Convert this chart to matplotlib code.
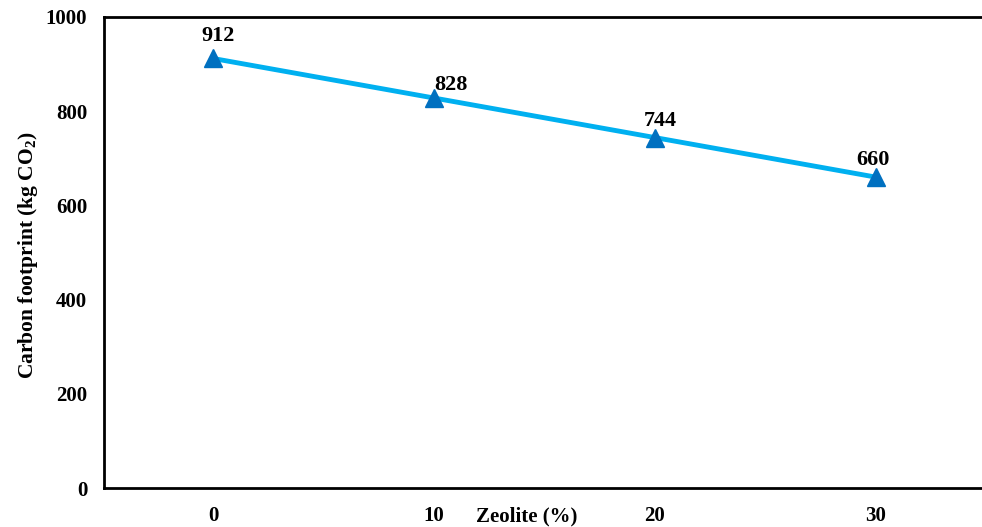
import matplotlib.pyplot as plt

# Carbon footprint vs zeolite replacement
zeolite = [0, 10, 20, 30]
footprint = [912, 828, 744, 660]
yticks = [0, 200, 400, 600, 800, 1000]

plt.rcParams['font.family'] = 'Liberation Serif'
plt.rcParams['font.weight'] = 'bold'
plt.rcParams['mathtext.fontset'] = 'custom'
plt.rcParams['mathtext.bf'] = 'Liberation Serif:bold'
plt.rcParams['mathtext.rm'] = 'Liberation Serif:bold'

fig = plt.figure(figsize=(9.82, 5.27), dpi=100)
ax = fig.add_axes([104 / 982, 1 - 488 / 527, 1 - 104 / 982, (488 - 17) / 527])

ax.plot(zeolite, footprint, color='#00B0F0', lw=3.5, zorder=2)
ax.plot(zeolite, footprint, ls='none', marker='^', ms=13, color='#0070C0', zorder=3)

# value labels above each point
offsets = [(4, 9), (12, 2), (4, 5), (-2, 5)]
for x, y, (dx, dy) in zip(zeolite, footprint, offsets):
    ax.annotate(str(y), (x, y), xytext=(dx, dy), textcoords='offset points',
                ha='center', va='bottom', fontsize=16, fontweight='bold')

ax.set_xlim(-4.93, 34.8)
ax.set_ylim(0, 1000)
ax.set_xticks(zeolite)
ax.set_xticklabels([str(z) for z in zeolite])
ax.set_yticks(yticks)
ax.tick_params(length=0, labelsize=15, pad=12)
ax.tick_params(axis='x', pad=13)
for lbl in ax.get_xticklabels() + ax.get_yticklabels():
    lbl.set_fontweight('bold')

ax.spines['right'].set_visible(False)
for s in ['left', 'top', 'bottom']:
    ax.spines[s].set_linewidth(2)

fig.text(527 / 982, 1 - 516 / 527, 'Zeolite (%)', ha='center', va='center',
         fontsize=15, fontweight='bold')
fig.text(28 / 982, 1 - 255 / 527, r'Carbon footprint (kg CO$_{\mathrm{2}}$)',
         rotation=90, ha='center', va='center', fontsize=15.5, fontweight='bold')

fig.savefig('out.png', dpi=100)
